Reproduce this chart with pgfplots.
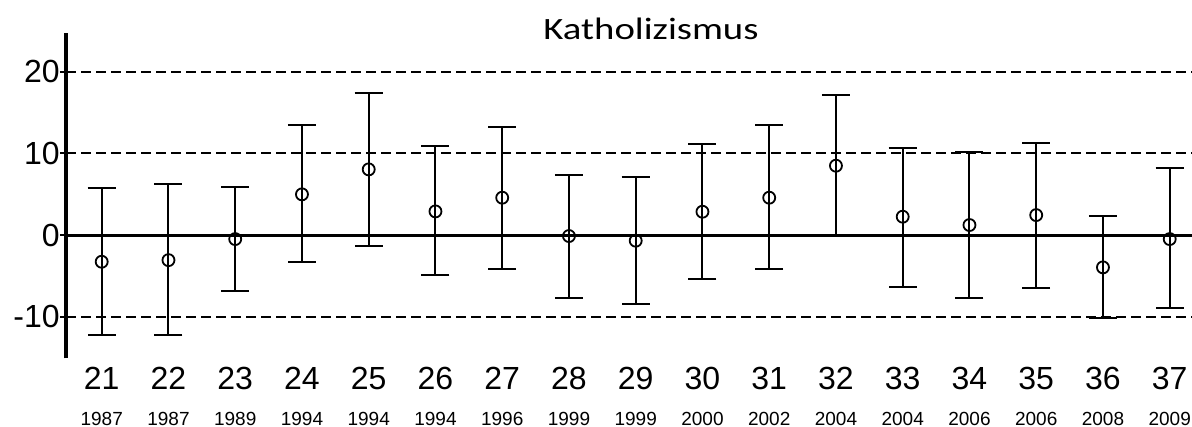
\documentclass[border=0pt]{standalone}
\usepackage{fontspec}
\setmainfont{Liberation Sans}
\newfontfamily\titlefont{Carlito}
\usepackage{graphicx}
\usepackage{pgfplots}
\usepackage{pgfplotstable}
\pgfplotsset{compat=1.18}
\pgfplotstableread{
x  y     ep    em
21 -3.27 9.00  9.00
22 -3.07 9.28  9.20
23 -0.49 6.42  6.34
24 4.99  8.46  8.26
25 8.05  9.41  9.40
26 2.90  8.02  7.85
27 4.58  8.67  8.79
28 -0.12 7.48  7.65
29 -0.69 7.76  7.81
30 2.86  8.26  8.30
31 4.58  8.87  8.79
32 8.50  8.71  8.50
33 2.25  8.38  8.59
34 1.23  8.91  9.00
35 2.45  8.87  8.99
36 -3.96 6.33  6.26
37 -0.49 8.74  8.43
}\datatable
\begin{document}
\begin{tikzpicture}
\begin{axis}[
  at={(33bp,34.35bp)}, anchor=south west,
  scale only axis,
  width=563bp, height=162.8bp,
  xmin=20.465, xmax=37.334,
  ymin=-15.1, ymax=24.8,
  axis x line*=bottom,
  axis y line*=left,
  x axis line style={draw=none},
  y axis line style={line width=1.6bp, black},
  xtick={21,...,37},
  xticklabels={21,22,23,24,25,26,27,28,29,30,31,32,33,34,35,36,37},
  x tick style={draw=none},
  x tick label style={anchor=north, inner sep=0pt, yshift=-4.3bp, font=\fontsize{16bp}{19bp}\selectfont},
  extra x ticks={21,...,37},
  extra x tick labels={1987,1987,1989,1994,1994,1994,1996,1999,1999,2000,2002,2004,2004,2006,2006,2008,2009},
  extra x tick style={x tick label style={yshift=-22.3bp, font=\fontsize{9.5bp}{11bp}\selectfont}},
  ytick={-10,10,20},
  yticklabels={-10,10,20},
  ytick align=outside,
  major tick length=3bp,
  y tick style={line width=1bp, black},
  y tick label style={anchor=east, inner sep=0pt, font=\fontsize{16bp}{19bp}\selectfont},
  ymajorgrids,
  major grid style={dash pattern=on 5bp off 2.5bp, line width=1bp, black},
  extra y ticks={0},
  extra y tick labels={0},
  extra y tick style={major grid style={solid, line width=1.5bp, black}},
  clip=false,
]
\addplot[only marks, black, mark=o, mark size=3bp, mark options={line width=0.9bp},
  error bars/.cd, y dir=both, y explicit,
  error bar style={line width=1bp, black},
  error mark options={rotate=90, line width=1bp, mark size=7bp, black}]
  table[x=x, y=y, y error plus=ep, y error minus=em] {\datatable};
\end{axis}
\node[anchor=base] at (325.5bp,193.5bp) {\titlefont\fontsize{15.5bp}{18bp}\selectfont\scalebox{1.25}[1]{Katholizismus}};
\pgfresetboundingbox
\path (0,0) rectangle (596bp,213.5bp);
\end{tikzpicture}
\end{document}
